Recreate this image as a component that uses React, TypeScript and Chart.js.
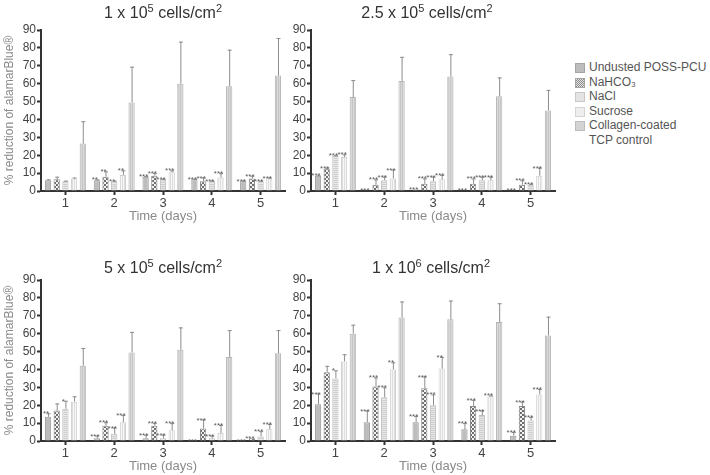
import React, { useEffect, useRef } from 'react';
import { Chart, registerables } from 'chart.js';
Chart.register(...registerables);

const FONT = "'Liberation Sans', Arial, sans-serif";

const days = ['1', '2', '3', '4', '5'];
const seriesNames = ['Undusted POSS-PCU', 'NaHCO\u2083', 'NaCl', 'Sucrose', 'Collagen-coated\nTCP control'];
const panelTitles = ['1 x 10^5 cells/cm^2', '2.5 x 10^5 cells/cm^2', '5 x 10^5 cells/cm^2', '1 x 10^6 cells/cm^2'];
const yAxisTitle = '% reduction of alamarBlue\u00ae';
const xAxisTitle = 'Time (days)';

// Panel 1: 1 x 10^5 cells/cm2  (rows: Undusted, NaHCO3, NaCl, Sucrose, TCP)
const p1Means = [
  [6, 6, 8, 6.5, 5.5],
  [6.5, 8, 8.5, 5.5, 7],
  [5.5, 5.5, 6.5, 5.5, 5.5],
  [7, 9, 10.5, 7.5, 7],
  [26.5, 49.5, 60, 58.5, 64.5],
];
const p1Errors = [
  [0.5, 0.5, 0.3, 0.3, 0.3],
  [1.5, 3, 1.5, 2, 1.5],
  [0.3, 0.3, 0.3, 0.3, 0.3],
  [0.5, 2.5, 1, 2.5, 0.5],
  [12.5, 20, 23.5, 20.5, 21],
];
const p1Stars = [
  ['', '**', '***', '***', '***'],
  ['', '**', '***', '***', '***'],
  ['', '**', '***', '***', '***'],
  ['', '**', '***', '***', '***'],
  ['', '', '', '', ''],
];

// Panel 2: 2.5 x 10^5 cells/cm2
const p2Means = [
  [8.5, 0.3, 1, 0.3, 0.3],
  [12.5, 3.5, 4, 4, 3.5],
  [19.5, 6, 5.5, 6, 3.5],
  [19, 7, 6.5, 6, 8.5],
  [52.5, 61.5, 64, 53, 45],
];
const p2Errors = [
  [0.3, 0, 0, 0, 0],
  [0.5, 3, 3, 3, 2.5],
  [0.5, 2, 2.5, 2, 0.5],
  [1.5, 5, 2.5, 2, 4.5],
  [9.5, 13.5, 12.5, 10.5, 11.5],
];
const p2Stars = [
  ['***', '***', '***', '***', '***'],
  ['***', '***', '***', '***', '***'],
  ['***', '***', '***', '***', '***'],
  ['***', '***', '***', '***', '***'],
  ['', '', '', '', ''],
];

// Panel 3: 5 x 10^5 cells/cm2
const p3Means = [
  [13.5, 1.5, 1.5, 0, 0],
  [17, 8.5, 8.5, 7, 1.5],
  [18, 4, 1.5, 1.5, 2.5],
  [22, 10.5, 6, 4.5, 6.5],
  [42, 49.5, 51, 47, 49],
];
const p3Errors = [
  [2, 1.5, 2, 0, 0],
  [4, 2, 1.5, 5, 0],
  [4.5, 3.5, 2, 1.5, 3],
  [3, 4, 4, 4.5, 3],
  [10, 11.5, 12.5, 15, 13],
];
const p3Stars = [
  ['**', '***', '***', '***', '***'],
  ['', '***', '***', '***', '***'],
  ['*', '***', '***', '***', '***'],
  ['', '***', '***', '***', '***'],
  ['', '', '', '', ''],
];

// Panel 4: 1 x 10^6 cells/cm2
const p4Means = [
  [20.5, 10.5, 10.5, 6.5, 3],
  [38.5, 30.5, 29.5, 19.5, 19.5],
  [35, 24.5, 20, 14.5, 11.5],
  [44.5, 40, 40.5, 25, 26],
  [60, 69, 68, 66.5, 59],
];
const p4Errors = [
  [6, 6.5, 3.5, 3.5, 2],
  [3.5, 5, 6.5, 3.5, 2.5],
  [4.5, 5.5, 6, 2.5, 2],
  [4, 4, 6.5, 0.5, 3],
  [5, 9, 10.5, 10.5, 10.5],
];
const p4Stars = [
  ['***', '***', '***', '***', '***'],
  ['', '***', '***', '***', '***'],
  ['*', '***', '***', '***', '***'],
  ['', '**', '**', '***', '***'],
  ['', '', '', '', ''],
];

const panels = [
  { title: panelTitles[0], means: p1Means, errors: p1Errors, stars: p1Stars, left: 0, top: 0, showY: true, titleY: 14, titleDx: 0 },
  { title: panelTitles[1], means: p2Means, errors: p2Errors, stars: p2Stars, left: 270, top: 0, showY: false, titleY: 14, titleDx: -6 },
  { title: panelTitles[2], means: p3Means, errors: p3Errors, stars: p3Stars, left: 0, top: 250, showY: true, titleY: 19, titleDx: 0 },
  { title: panelTitles[3], means: p4Means, errors: p4Errors, stars: p4Stars, left: 270, top: 250, showY: false, titleY: 19, titleDx: -2 },
];

const borderColors = ['#9a9a9a', '#8a8a8a', '#bdbdbd', '#cfcfcf', '#b4b4b4'];

function makePattern(kind: number): CanvasPattern | string {
  const c = document.createElement('canvas');
  c.width = 4;
  c.height = 4;
  const g = c.getContext('2d')!;
  if (kind === 0) {
    g.fillStyle = '#bdbdbd';
    g.fillRect(0, 0, 4, 4);
  } else if (kind === 1) {
    g.fillStyle = '#f2f2f2';
    g.fillRect(0, 0, 4, 4);
    g.fillStyle = '#6e6e6e';
    g.fillRect(0, 0, 2, 2);
    g.fillRect(2, 2, 2, 2);
  } else if (kind === 2) {
    g.fillStyle = '#e8e8e8';
    g.fillRect(0, 0, 4, 4);
    g.fillStyle = '#cdcdcd';
    g.fillRect(0, 0, 4, 1);
    g.fillRect(0, 2, 4, 1);
  } else if (kind === 3) {
    g.fillStyle = '#f6f6f6';
    g.fillRect(0, 0, 4, 4);
    g.fillStyle = '#dedede';
    g.fillRect(0, 0, 1, 4);
    g.fillRect(2, 0, 1, 4);
  } else {
    g.fillStyle = '#d8d8d8';
    g.fillRect(0, 0, 4, 4);
    g.fillStyle = '#c6c6c6';
    g.fillRect(0, 0, 1, 4);
    g.fillRect(2, 0, 1, 4);
  }
  const p = g.createPattern(c, 'repeat');
  return p || '#ccc';
}

function parseTitle(t: string) {
  const parts: { text: string; sup: boolean }[] = [];
  const re = /\^(\w)/g;
  let last = 0;
  let m: RegExpExecArray | null;
  while ((m = re.exec(t))) {
    if (m.index > last) parts.push({ text: t.slice(last, m.index), sup: false });
    parts.push({ text: m[1], sup: true });
    last = m.index + m[0].length;
  }
  if (last < t.length) parts.push({ text: t.slice(last), sup: false });
  return parts;
}

function Panel({ cfg }: { cfg: any }) {
  const ref = useRef<HTMLCanvasElement>(null);
  useEffect(() => {
    const errorPlugin = {
      id: 'errbars',
      afterDatasetsDraw(chart: any) {
        const ctx = chart.ctx;
        const y = chart.scales.y;
        ctx.save();
        chart.data.datasets.forEach((ds: any, i: number) => {
          const meta = chart.getDatasetMeta(i);
          meta.data.forEach((el: any, j: number) => {
            const mean = cfg.means[i][j];
            const err = cfg.errors[i][j];
            const top = y.getPixelForValue(mean + err);
            if (err > 0) {
              ctx.strokeStyle = '#8c8c8c';
              ctx.lineWidth = 1;
              ctx.beginPath();
              ctx.moveTo(el.x + 0.5, el.y);
              ctx.lineTo(el.x + 0.5, top);
              ctx.moveTo(el.x - 1.5, top + 0.5);
              ctx.lineTo(el.x + 2.5, top + 0.5);
              ctx.stroke();
            }
            const s = cfg.stars[i][j];
            if (s) {
              ctx.fillStyle = '#5a5a5a';
              ctx.font = `8px ${FONT}`;
              ctx.textAlign = 'center';
              ctx.textBaseline = 'alphabetic';
              ctx.fillText(s, el.x - 2, Math.min(top, el.y) + 3);
            }
          });
        });
        ctx.restore();
      },
    };
    const titlePlugin = {
      id: 'suptitle',
      afterDraw(chart: any) {
        const ctx = chart.ctx;
        const parts = parseTitle(cfg.title);
        const base = `16px ${FONT}`;
        const sup = `11px ${FONT}`;
        ctx.save();
        let w = 0;
        parts.forEach((p) => {
          ctx.font = p.sup ? sup : base;
          w += ctx.measureText(p.text).width;
        });
        const ca = chart.chartArea;
        let x = (ca.left + ca.right) / 2 - w / 2 + cfg.titleDx;
        ctx.fillStyle = '#333';
        ctx.textBaseline = 'middle';
        ctx.textAlign = 'left';
        parts.forEach((p) => {
          ctx.font = p.sup ? sup : base;
          ctx.fillText(p.text, x, cfg.titleY + (p.sup ? -5 : 0));
          x += ctx.measureText(p.text).width;
        });
        ctx.restore();
      },
    };
    const chart = new Chart(ref.current!, {
      type: 'bar',
      data: {
        labels: days,
        datasets: seriesNames.map((n, i) => ({
          label: n,
          data: cfg.means[i],
          backgroundColor: makePattern(i) as any,
          borderColor: borderColors[i],
          borderWidth: 1,
          categoryPercentage: 0.89,
          barPercentage: 0.72,
        })),
      },
      options: {
        responsive: false,
        animation: false,
        layout: { padding: { left: 0, right: 5, top: 30, bottom: 0 } },
        plugins: { legend: { display: false }, tooltip: { enabled: false }, title: { display: false } },
        scales: {
          x: {
            grid: { display: true, drawOnChartArea: false, offset: false, tickLength: 4, color: '#333', tickWidth: 2 },
            border: { display: true, color: '#333', width: 2 },
            ticks: { color: '#444', font: { size: 13, family: FONT }, padding: 1 },
            title: { display: true, text: xAxisTitle, color: '#8a8a8a', font: { size: 13, family: FONT }, padding: { top: 0, bottom: 1 } },
            afterFit: (s: any) => { s.height = 34; },
          },
          y: {
            min: 0,
            max: 90,
            grid: { display: true, drawOnChartArea: false, tickLength: 4, color: '#333', tickWidth: 2 },
            border: { display: true, color: '#333', width: 2 },
            ticks: { stepSize: 10, color: '#444', font: { size: 12, family: FONT }, padding: 1 },
            title: { display: cfg.showY, text: yAxisTitle, color: '#8a8a8a', font: { size: 12, family: FONT }, padding: { top: 2, bottom: 0 } },
            afterFit: (s: any) => { s.width = 41; },
          },
        },
      } as any,
      plugins: [errorPlugin, titlePlugin],
    });
    return () => chart.destroy();
  }, []);
  return (
    <div style={{ position: 'absolute', left: cfg.left, top: cfg.top, width: 290, height: 225 }}>
      <canvas ref={ref} width={290} height={225} style={{ width: 290, height: 225 }} />
    </div>
  );
}

const swatchStyles: React.CSSProperties[] = [
  { background: '#bdbdbd', border: '1px solid #a5a5a5' },
  { background: 'repeating-conic-gradient(#8a8a8a 0 25%, #e6e6e6 0 50%) 0 0 / 2px 2px', border: '1px solid #a5a5a5' },
  { background: '#e3e3e3', border: '1px solid #c8c8c8' },
  { background: '#eeeeee', border: '1px solid #d4d4d4' },
  { background: '#d3d3d3', border: '1px solid #bcbcbc' },
];

function Legend() {
  return (
    <div style={{ position: 'absolute', left: 575, top: 60, fontFamily: FONT, fontSize: 12, color: '#555', lineHeight: '14.6px' }}>
      {seriesNames.map((n, i) => (
        <div key={i} style={{ position: 'relative', paddingLeft: 14, whiteSpace: 'pre-line' }}>
          <span style={{ position: 'absolute', left: 0, top: 3, width: 8, height: 8, ...swatchStyles[i] }} />
          {n}
        </div>
      ))}
    </div>
  );
}

export default function App() {
  return (
    <div style={{ position: 'absolute', left: 0, top: 0, width: 710, height: 475, background: '#fff', overflow: 'hidden' }}>
      {panels.map((p, i) => (
        <Panel key={i} cfg={p} />
      ))}
      <Legend />
    </div>
  );
}
